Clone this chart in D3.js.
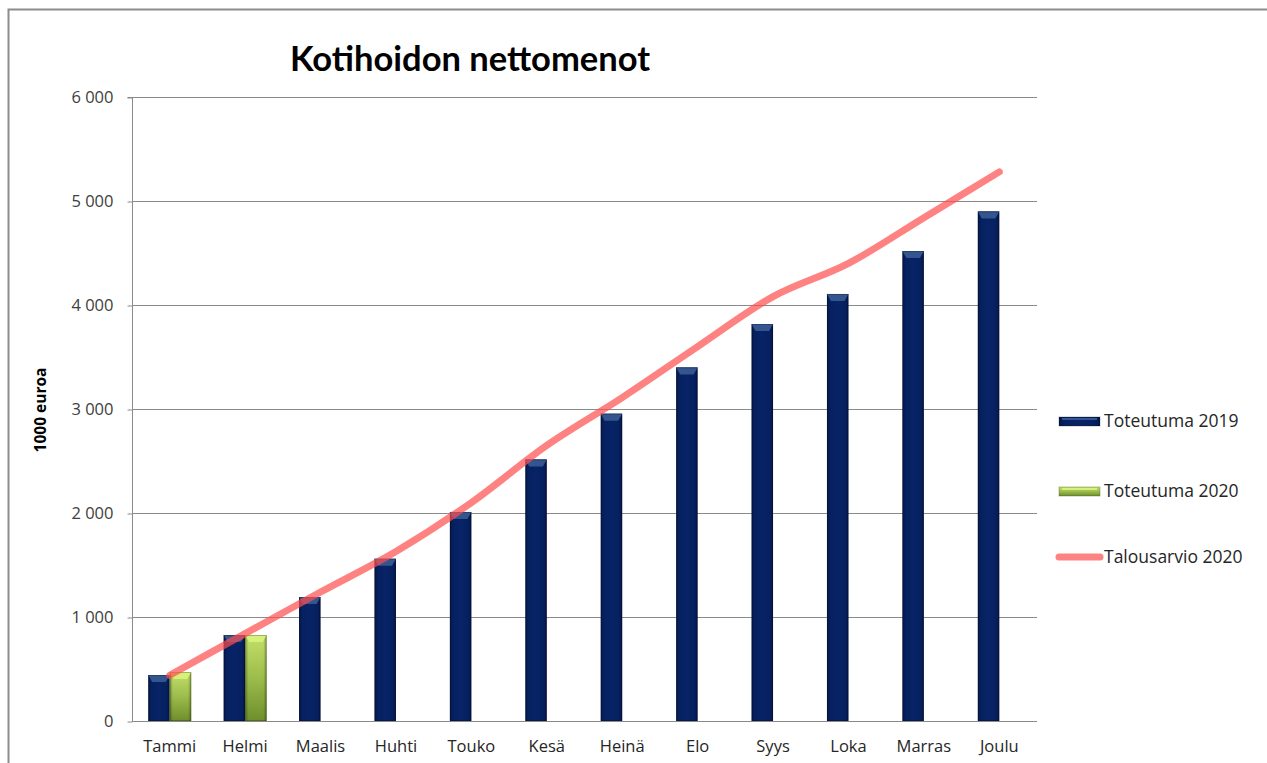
<!DOCTYPE html>
<html><head><meta charset="utf-8">
<script src="https://cdn.jsdelivr.net/npm/d3@7"></script>
<style>body{margin:0;background:#fff}svg{display:block}</style>
</head><body>
<svg id="c" width="1267" height="763"></svg>
<script>
const months = ["Tammi","Helmi","Maalis","Huhti","Touko","Kesä","Heinä","Elo","Syys","Loka","Marras","Joulu"];
const toteutuma2019 = [442, 827, 1192, 1560, 2010, 2515, 2955, 3400, 3817, 4106, 4519, 4900];
const toteutuma2020 = [471, 827];
const talousarvio2020 = [440, 840, 1240, 1630, 2100, 2650, 3110, 3600, 4080, 4400, 4840, 5280];
const yTicks = [0, 1000, 2000, 3000, 4000, 5000, 6000];
const seriesNames = ["Toteutuma 2019", "Toteutuma 2020", "Talousarvio 2020"];
const title = "Kotihoidon nettomenot";
const yLabel = "1000 euroa";

const svg = d3.select("#c");
const W = 1267, H = 763;
const m = {left: 132, right: 1037, top: 97, bottom: 721};

// defs
const defs = svg.append("defs");
function hGrad(id, stops) {
  const g = defs.append("linearGradient").attr("id", id).attr("x1","0").attr("x2","1").attr("y1","0").attr("y2","0");
  stops.forEach(s => g.append("stop").attr("offset", s[0]).attr("stop-color", s[1]));
}
function vGrad(id, stops) {
  const g = defs.append("linearGradient").attr("id", id).attr("x1","0").attr("x2","0").attr("y1","0").attr("y2","1");
  stops.forEach(s => g.append("stop").attr("offset", s[0]).attr("stop-color", s[1]));
}
hGrad("gBlue", [[0,"#041848"],[0.15,"#062060"],[0.5,"#082466"],[0.85,"#062060"],[1,"#041644"]]);
vGrad("gGreen", [[0,"#c3e068"],[0.5,"#9cbc4c"],[1,"#6e8e2c"]]);
hGrad("gGreenEdge", [[0,"rgba(60,80,20,0.35)"],[0.15,"rgba(0,0,0,0)"],[0.85,"rgba(0,0,0,0)"],[1,"rgba(60,80,20,0.35)"]]);

// frame
svg.append("rect").attr("x", 8.5).attr("y", 9.5).attr("width", W + 20).attr("height", H + 20)
  .attr("fill", "none").attr("stroke", "#8c8c8c").attr("stroke-width", 2);

const x = d3.scaleBand().domain(months).range([m.left, m.right]).padding(0);
const y = d3.scaleLinear().domain([0, 6000]).range([m.bottom, m.top]);
const bw = 21.5;

// gridlines
svg.append("g").selectAll("line").data(yTicks.filter(d => d > 0)).join("line")
  .attr("x1", m.left).attr("x2", m.right).attr("y1", d => Math.round(y(d)) + 0.5).attr("y2", d => Math.round(y(d)) + 0.5)
  .attr("stroke", "#8a8a8a").attr("stroke-width", 1);

// y axis
const yAxis = d3.axisLeft(y).tickValues(yTicks).tickSize(5).tickPadding(14)
  .tickFormat(d => d3.format(",")(d).replace(/,/g, " "));
const ga = svg.append("g").attr("transform", `translate(${m.left + 0.5},0.5)`).call(yAxis);
ga.select(".domain").attr("stroke", "#8a8a8a").attr("d", `M-5,${m.top}H0V${m.bottom}`);
ga.selectAll(".tick line").attr("stroke", "#8a8a8a");
ga.selectAll(".tick text").attr("fill", "#404040").style("font-family", "'Open Sans', sans-serif").style("font-size", "16.5px");

// x axis
const xAxis = d3.axisBottom(x).tickSize(0).tickPadding(19);
const gx = svg.append("g").attr("transform", `translate(0,${m.bottom + 0.5})`).call(xAxis);
gx.select(".domain").attr("stroke", "#8a8a8a").attr("d", `M${m.left},0H${m.right}`);
gx.selectAll(".tick text").attr("fill", "#262626").style("font-family", "'Open Sans', sans-serif").style("font-size", "16.5px");

// bars helper
function bar(g, x0, v, fill, cap, edge) {
  const top = y(v), h = m.bottom - top;
  g.append("rect").attr("x", x0).attr("y", top).attr("width", bw).attr("height", h).attr("fill", fill);
  if (edge) g.append("rect").attr("x", x0).attr("y", top).attr("width", bw).attr("height", h).attr("fill", edge);
  g.append("path").attr("d", `M${x0},${top}H${x0 + bw}L${x0 + bw - 4},${top + 7}H${x0 + 4}Z`).attr("fill", cap);
  g.append("rect").attr("x", x0 + 0.5).attr("y", top + 0.5).attr("width", bw - 1).attr("height", h - 1)
    .attr("fill", "none").attr("stroke", "rgba(0,0,0,0.25)").attr("stroke-width", 1);
}
const gb = svg.append("g");
toteutuma2019.forEach((v, i) => {
  const c = x(months[i]) + x.bandwidth() / 2;
  bar(gb, c - bw, v, "url(#gBlue)", "#35558f", null);
});
toteutuma2020.forEach((v, i) => {
  const c = x(months[i]) + x.bandwidth() / 2;
  bar(gb, c, v, "url(#gGreen)", "#d6f07c", "url(#gGreenEdge)");
});

// line
const line = d3.line().x((d, i) => x(months[i]) + x.bandwidth() / 2).y(d => y(d)).curve(d3.curveMonotoneX);
svg.append("path").datum(talousarvio2020).attr("d", line).attr("fill", "none")
  .attr("stroke", "#ff4d4d").attr("stroke-opacity", 0.7).attr("stroke-width", 7)
  .attr("stroke-linecap", "round").attr("stroke-linejoin", "round");

// title
svg.append("text").attr("x", 470).attr("y", 71).attr("text-anchor", "middle")
  .style("font-family", "Lato, 'Open Sans', sans-serif").style("font-weight", "bold").style("font-size", "34.5px")
  .attr("fill", "#000").text(title);

// y label
svg.append("text").attr("transform", "translate(46,410) rotate(-90)").attr("text-anchor", "middle")
  .style("font-family", "'Open Sans', sans-serif").style("font-weight", "bold").style("font-size", "15.5px")
  .attr("fill", "#000").text(yLabel);

// legend
const lg = svg.append("g");
const ly = [421, 491, 557];
lg.append("rect").attr("x", 1059).attr("y", ly[0] - 4).attr("width", 41).attr("height", 9).attr("fill", "url(#gBlue)")
  .attr("stroke", "rgba(0,0,0,0.25)");
lg.append("rect").attr("x", 1062).attr("y", ly[0] - 3).attr("width", 35).attr("height", 2).attr("fill", "#35558f");
lg.append("rect").attr("x", 1059).attr("y", ly[1] - 4).attr("width", 41).attr("height", 9).attr("fill", "url(#gGreen)")
  .attr("stroke", "rgba(60,80,20,0.35)");
lg.append("rect").attr("x", 1062).attr("y", ly[1] - 3).attr("width", 35).attr("height", 2).attr("fill", "#d6f07c");
lg.append("line").attr("x1", 1059).attr("x2", 1100).attr("y1", ly[2]).attr("y2", ly[2])
  .attr("stroke", "#ff4d4d").attr("stroke-opacity", 0.7).attr("stroke-width", 7).attr("stroke-linecap", "round");
seriesNames.forEach((n, i) => {
  lg.append("text").attr("x", 1104).attr("y", ly[i] + 6).text(n)
    .style("font-family", "'Open Sans', sans-serif").style("font-size", "17.5px").attr("fill", "#262626");
});
</script>
</body></html>
